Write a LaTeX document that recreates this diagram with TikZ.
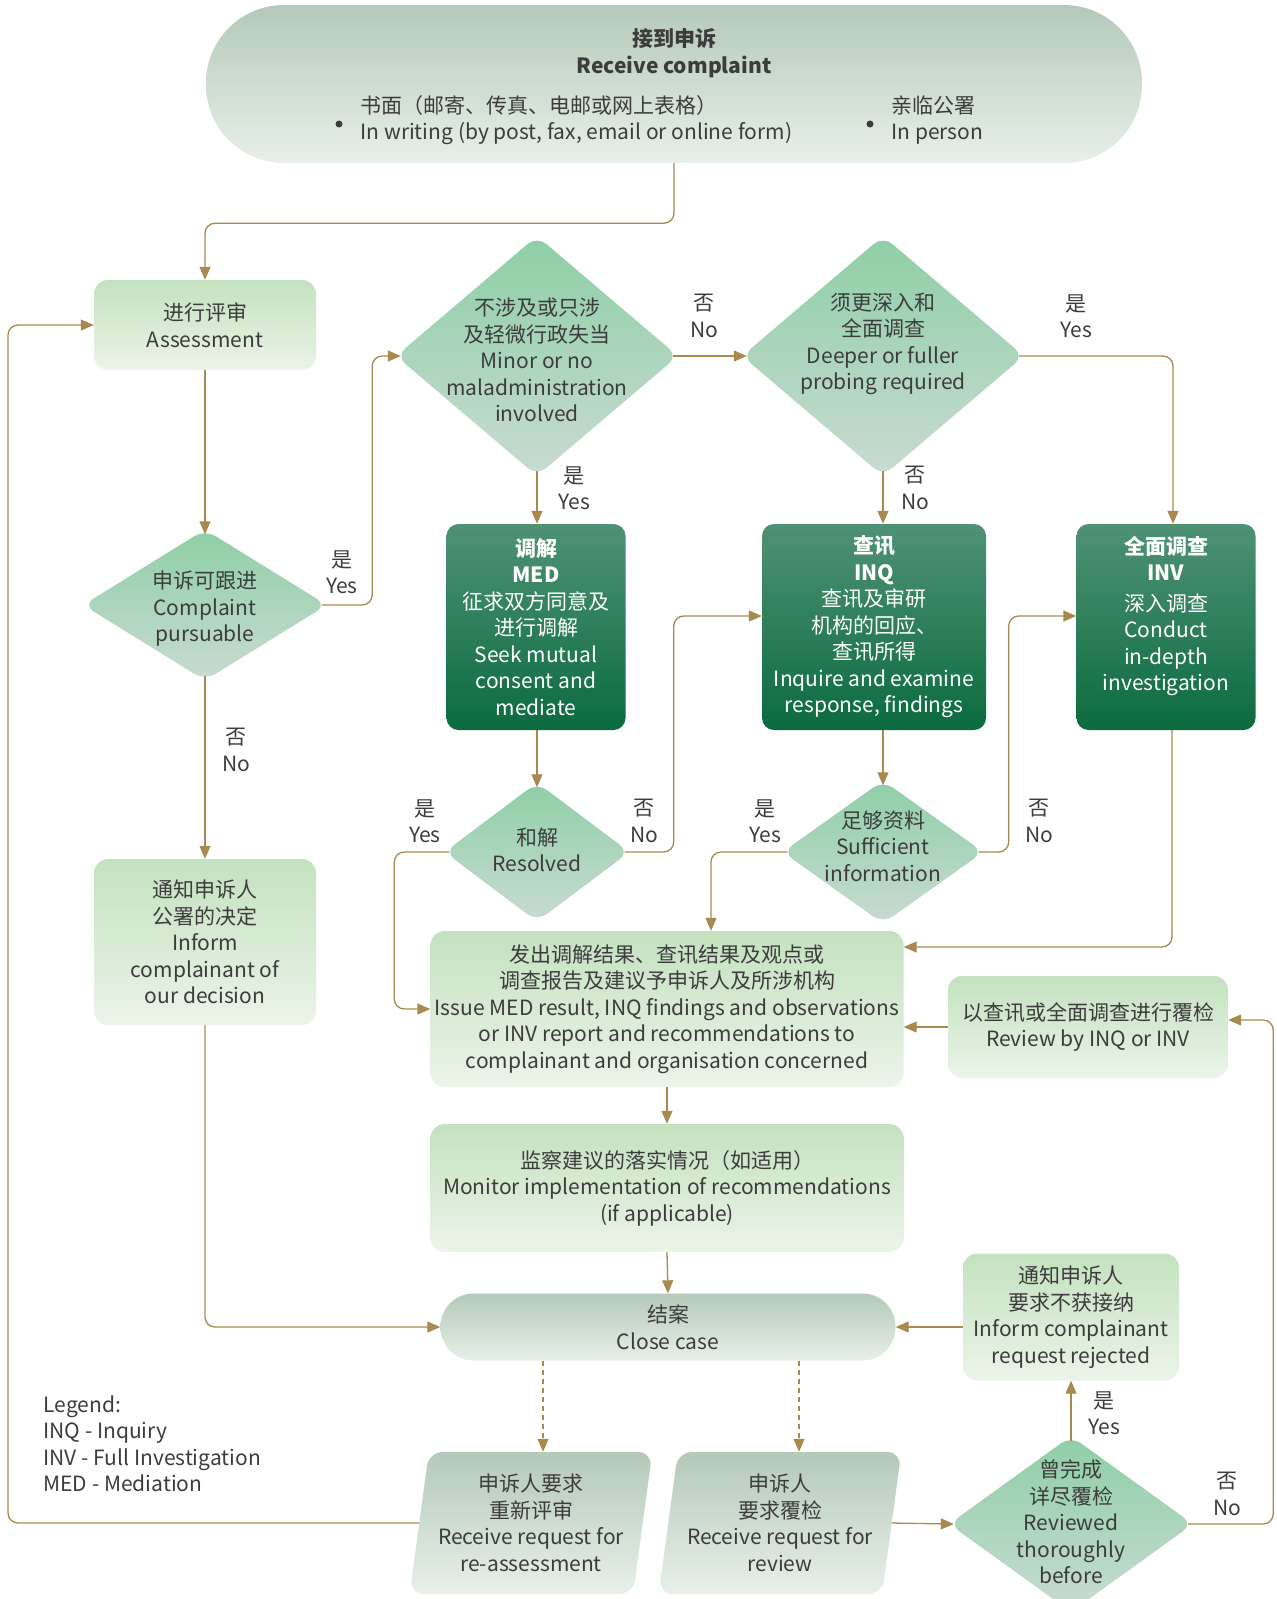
\documentclass[tikz,border=0pt]{standalone}
\usepackage{fontspec}
\setmainfont{Noto Sans CJK SC}
\usepackage{xcolor}
\definecolor{flowline}{HTML}{A8894F}
\definecolor{txtgray}{HTML}{3C3C3C}
\definecolor{lightTop}{HTML}{C3E2BF}
\definecolor{lightBot}{HTML}{ECF4E9}
\definecolor{darkTop}{HTML}{4F9276}
\definecolor{darkBot}{HTML}{0B6B3E}
\definecolor{diaTop}{HTML}{8ECFA6}
\definecolor{diaBot}{HTML}{C9DBD2}
\definecolor{termTop}{HTML}{B4C9B9}
\definecolor{termBot}{HTML}{E8F0E9}
\usetikzlibrary{arrows.meta,positioning,shapes.geometric,calc}

\begin{document}
\begin{tikzpicture}[x=1pt,y=-1pt,
  every node/.style={font=\fontsize{21}{26.5}\selectfont,text=txtgray,align=center},
  lightbox/.style={rectangle,rounded corners=14,top color=lightTop,bottom color=lightBot,inner sep=2pt},
  darkbox/.style={rectangle,rounded corners=12,top color=darkTop,bottom color=darkBot,text=white,inner sep=2pt,minimum height=206},
  decision/.style={diamond,rounded corners=12,top color=diaTop,bottom color=diaBot,inner sep=0pt},
  terminal/.style={rectangle,top color=termTop,bottom color=termBot},
  request/.style={trapezium,trapezium left angle=80,trapezium right angle=100,trapezium stretches=true,
    rounded corners=14,top color=termTop,bottom color=termBot,inner sep=2pt,minimum width=243,minimum height=142},
  bullet/.style={circle,fill=txtgray,inner sep=0pt,minimum size=7},
  conn/.style={draw=flowline,line width=1.3pt,rounded corners=10,-{Triangle[length=13pt,width=11pt]}},
  dstart/.style={shorten <=-5pt},
  dend/.style={shorten >=-5pt},
  lbl/.style={text=txtgray}]
  \useasboundingbox (0,0) rectangle (1277,1599);

  % Receive complaint
  \node[terminal,minimum width=936,minimum height=158,rounded corners=78] (recv) at (674,84) {};
  \node (recv-t) at (674,53) {\textbf{接到申诉}\\\textbf{Receive complaint}};
  \node[bullet] (dot1) at (339,124) {};
  \node[anchor=west,align=left] (writing) at (357,120) {书面（邮寄、传真、电邮或网上表格）\\In writing (by post, fax, email or online form)};
  \node[bullet] (dot2) at (870,124) {};
  \node[anchor=west,align=left] (person) at (888,120) {亲临公署\\In person};

  % left column
  \node[lightbox,minimum width=222,minimum height=90] (assess) at (205,325) {进行评审\\Assessment};
  \node[decision,minimum width=244,minimum height=151] (pursue) at (205,605) {};
  \node (pursue-t) at (205,609) {申诉可跟进\\Complaint\\pursuable};
  \node[lightbox,minimum width=222,minimum height=166] (inform) at (205,942) {通知申诉人\\公署的决定\\Inform\\complainant of\\our decision};

  % decisions
  \node[decision,minimum width=282,minimum height=240] (minor) at (537,356) {};
  \node (minor-t) at (537,360) {不涉及或只涉\\及轻微行政失当\\Minor or no\\maladministration\\involved};
  \node[decision,minimum width=282,minimum height=240] (deeper) at (883,356) {};
  \node (deeper-t) at (883,344) {须更深入和\\全面调查\\Deeper or fuller\\probing required};

  % MED / INQ / INV
  \node[darkbox,minimum width=179] (med) at (536,627) {\textbf{调解}\\\textbf{MED}\\征求双方同意及\\进行调解\\Seek mutual\\consent and\\mediate};
  \node[darkbox,minimum width=224] (inq) at (874,627) {\textbf{查讯}\\\textbf{INQ}\\查讯及审研\\机构的回应、\\查讯所得\\Inquire and examine\\response, findings};
  \node[darkbox,minimum width=179] (inv) at (1166,627) {};
  \node[text=white] (inv-t) at (1166,616) {\textbf{全面调查}\\\textbf{INV}\\[4pt]深入调查\\Conduct\\in-depth\\investigation};

  \node[decision,minimum width=185,minimum height=139] (resolved) at (537,852) {};
  \node (resolved-t) at (537,850) {和解\\Resolved};
  \node[decision,minimum width=201,minimum height=143] (suff) at (883,852) {};
  \node (suff-t) at (883,846) {足够资料\\Sufficient\\information};

  % results
  \node[lightbox,minimum width=473,minimum height=156] (issue) at (667,1009) {发出调解结果、查讯结果及观点或\\调查报告及建议予申诉人及所涉机构\\Issue MED result, INQ findings and observations\\or INV report and recommendations to\\complainant and organisation concerned};
  \node[lightbox,minimum width=280,minimum height=102] (rev) at (1088,1027) {以查讯或全面调查进行覆检\\Review by INQ or INV};
  \node[lightbox,minimum width=473,minimum height=128] (monitor) at (667,1188) {监察建议的落实情况（如适用）\\Monitor implementation of recommendations\\(if applicable)};
  \node[terminal,minimum width=455,minimum height=67,rounded corners=33] (close) at (668,1327) {结案\\Close case};
  \node[lightbox,minimum width=216,minimum height=127] (reject) at (1071,1317) {通知申诉人\\要求不获接纳\\Inform complainant\\request rejected};

  % requests after closing
  \node[request] (reass) at (531,1523) {申诉人要求\\重新评审\\Receive request for\\re-assessment};
  \node[request] (reqrev) at (780,1523) {申诉人\\要求覆检\\Receive request for\\review};
  \node[decision,minimum width=244,minimum height=176] (reviewed) at (1071,1524) {};
  \node (reviewed-t) at (1071,1522) {曾完成\\详尽覆检\\Reviewed\\thoroughly\\before};

  % Legend
  \node[anchor=west,align=left] (legend) at (40,1444) {Legend:\\INQ - Inquiry\\INV - Full Investigation\\MED - Mediation};

  % connectors
  \draw[conn] (recv.south) -- ++(0,60) -| (assess.north);
  \draw[conn,dend] (assess) -- (pursue);
  \draw[conn,dstart,dend] (pursue.east) -- ++(45,0) |- (minor.west);
  \node[lbl] (y1) at (342,572) {是\\Yes};
  \draw[conn,dstart] (pursue.south) -- (inform.north);
  \node[lbl] (n1) at (236,750) {否\\No};
  \draw[conn,dstart,dend] (minor.east) -- (deeper.west);
  \node[lbl] (n2) at (704,316) {否\\No};
  \draw[conn,dstart] (deeper.east) -| ($(inv.north)+(7,0)$);
  \node[lbl] (y2) at (1076,316) {是\\Yes};
  \draw[conn,dstart] (deeper.south) -- (deeper.south |- inq.north);
  \node[lbl] (n3) at (915,488) {否\\No};
  \draw[conn,dstart] (minor.south) -- (minor.south |- med.north);
  \node[lbl] (y3) at (574,488) {是\\Yes};
  \draw[conn,dend] (med.south -| resolved.north) -- (resolved.north);
  \draw[conn,dend] (inq.south -| suff.north) -- (suff.north);
  \draw[conn,dstart] (resolved.west) -- ++(-50,0) |- (issue.west);
  \node[lbl] (y4) at (425,821) {是\\Yes};
  \draw[conn,dstart] (resolved.east) -- ++(44,0) |- ($(inq.west)+(0,-11)$);
  \node[lbl] (n4) at (644,821) {否\\No};
  \draw[conn,dstart] (suff.west) -| ($(issue.north)+(44,0)$);
  \node[lbl] (y5) at (765,821) {是\\Yes};
  \draw[conn,dstart] (suff.east) -- ++(25,0) |- ($(inv.west)+(0,-11)$);
  \node[lbl] (n5) at (1039,821) {否\\No};
  \draw[conn] ($(inv.south)+(6,0)$) |- ($(issue.east)+(0,-62)$);
  \draw[conn] (rev.west) -- (rev.west -| issue.east);
  \draw[conn] (issue.south) -- (monitor.north);
  \draw[conn] (monitor.south) -- (close.north);
  \draw[conn] (inform.south) |- (close.west);
  \draw[conn] (close.east -| reject.west) -- (close.east);
  \coordinate (reqa) at ($(reass.north)+(12,0)$);
  \coordinate (reqb) at ($(reqrev.north)+(19,0)$);
  \draw[conn,dash pattern=on 5pt off 4pt] (close.south -| reqa) -- (reqa);
  \draw[conn,dash pattern=on 5pt off 4pt] (close.south -| reqb) -- (reqb);
  \coordinate (lrail) at (8,0);
  \draw[conn] (reass.west) -| (lrail |- assess.west) -- (assess.west);
  \draw[conn,dend] (reqrev.east) -- (reviewed.west);
  \draw[conn,dstart] (reviewed.north) -- (reject.south);
  \node[lbl] (y6) at (1104,1413) {是\\Yes};
  \draw[conn,dstart] (reviewed.east) -- ++(80,0) |- ($(rev.east)+(0,-7)$);
  \node[lbl] (n6) at (1227,1494) {否\\No};
\end{tikzpicture}
\end{document}
